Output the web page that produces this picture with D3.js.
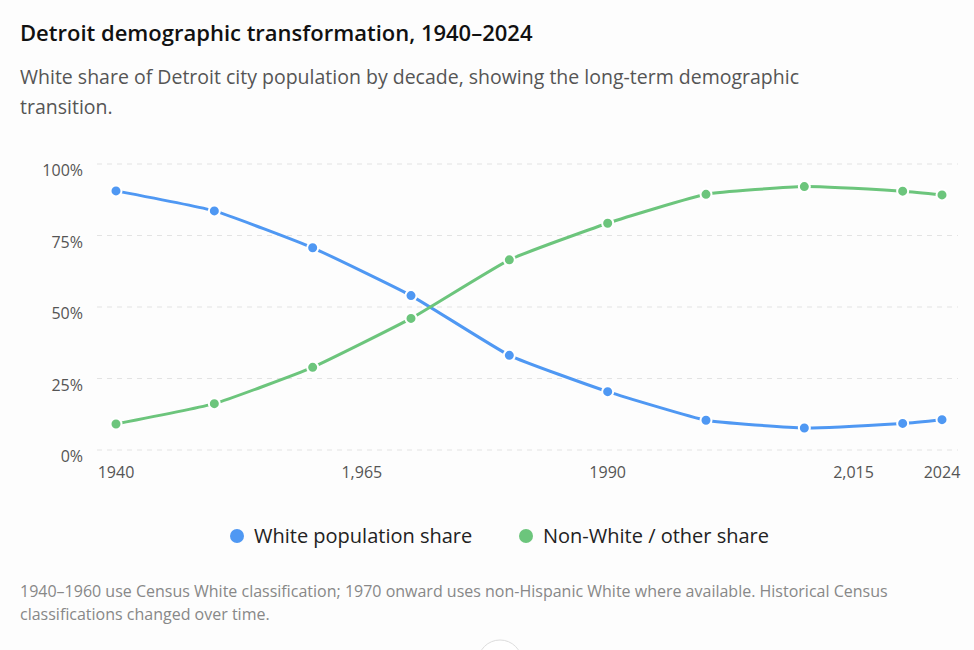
<!DOCTYPE html>
<html><head><meta charset="utf-8">
<script src="https://cdn.jsdelivr.net/npm/d3@7"></script>
<style>
body{margin:0;background:#fdfdfd;font-family:"Open Sans","Noto Sans",sans-serif;}
</style></head><body>
<svg id="c" width="974" height="650"></svg>
<script>
const years=[1940,1950,1960,1970,1980,1990,2000,2010,2020,2024];
const whiteShare=[90.6,83.6,70.7,54.0,33.1,20.4,10.4,7.7,9.3,10.6];
const nonWhiteShare=[9.1,16.2,28.9,46.0,66.5,79.3,89.4,92.1,90.5,89.2];
const xTicks=[1940,1965,1990,2015,2024];
const xTickLabels=["1940","1,965","1990","2,015","2024"];
const yTicks=[0,25,50,75,100];
const seriesNames=["White population share","Non-White / other share"];
const colors=["#4f98f3","#6cc57c"];

const svg=d3.select("#c");
svg.append("text").attr("x",20).attr("y",41).attr("font-size",22).attr("font-weight",600).attr("fill","#111").text("Detroit demographic transformation, 1940–2024");
svg.append("text").attr("x",20).attr("y",84).attr("font-size",19.5).attr("fill","#555").text("White share of Detroit city population by decade, showing the long-term demographic");
svg.append("text").attr("x",20).attr("y",114).attr("font-size",19.5).attr("fill","#555").text("transition.");

const x=d3.scaleLinear().domain([1940,2024]).range([116,942]);
const y=d3.scaleLinear().domain([0,100]).range([450,164]);

const g=svg.append("g");
yTicks.forEach(t=>{
  g.append("line").attr("x1",97).attr("x2",958).attr("y1",y(t)).attr("y2",y(t))
   .attr("stroke","#e3e3e3").attr("stroke-dasharray","5,5");
  g.append("text").attr("x",83).attr("y",y(t)+12).attr("text-anchor","end").attr("font-size",16).attr("fill","#555").text(t+"%");
});
xTicks.forEach((t,i)=>{
  g.append("text").attr("x",x(t)).attr("y",478).attr("text-anchor","middle").attr("font-size",16).attr("fill","#555").text(xTickLabels[i]);
});
const line=d3.line().x(d=>x(d[0])).y(d=>y(d[1])).curve(d3.curveCardinal.tension(0.6));
[whiteShare,nonWhiteShare].forEach((s,k)=>{
  const pts=years.map((yr,i)=>[yr,s[i]]);
  g.append("path").attr("d",line(pts)).attr("fill","none").attr("stroke",colors[k]).attr("stroke-width",3);
});
[whiteShare,nonWhiteShare].forEach((s,k)=>{
  g.selectAll(null).data(years.map((yr,i)=>[yr,s[i]])).join("circle")
   .attr("cx",d=>x(d[0])).attr("cy",d=>y(d[1])).attr("r",5.5)
   .attr("fill",colors[k]).attr("stroke","#fff").attr("stroke-width",2);
});
const leg=[[237,seriesNames[0]],[526,seriesNames[1]]];
leg.forEach((l,k)=>{
  svg.append("circle").attr("cx",l[0]).attr("cy",536).attr("r",7).attr("fill",colors[k]);
  svg.append("text").attr("x",l[0]+17).attr("y",543).attr("font-size",20).attr("fill","#222").text(l[1]);
});
svg.append("text").attr("x",20).attr("y",597).attr("font-size",16).attr("fill","#888").text("1940–1960 use Census White classification; 1970 onward uses non-Hispanic White where available. Historical Census");
svg.append("text").attr("x",20).attr("y",620).attr("font-size",16).attr("fill","#888").text("classifications changed over time.");
svg.append("circle").attr("cx",500).attr("cy",662).attr("r",22).attr("fill","#fff").attr("stroke","#ddd");
</script></body></html>
